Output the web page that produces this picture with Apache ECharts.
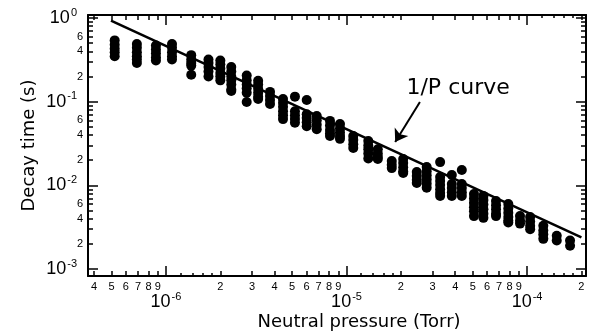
<!DOCTYPE html>
<html>
<head>
<meta charset="utf-8">
<script src="https://cdn.jsdelivr.net/npm/echarts@6/dist/echarts.min.js"></script>
<style>
  html, body { margin: 0; padding: 0; background: #fff; }
  #chart { width: 589px; height: 333px; }
</style>
</head>
<body>
<div id="chart"></div>
<script>
// neutral pressure (Torr) of each measured column
const pressures = [
  5.2e-7, 6.9e-7, 8.8e-7, 1.08e-6, 1.38e-6, 1.72e-6, 2.0e-6, 2.3e-6, 2.8e-6, 3.24e-6,
  3.77e-6, 4.45e-6, 5.18e-6, 6.02e-6, 6.84e-6, 8.1e-6, 9.2e-6, 1.09e-5, 1.32e-5, 1.49e-5,
  1.78e-5, 2.06e-5, 2.45e-5, 2.78e-5, 3.3e-5, 3.83e-5, 4.35e-5, 5.08e-5, 5.73e-5, 6.73e-5,
  7.87e-5, 9.14e-5, 1.04e-4, 1.23e-4, 1.46e-4, 1.73e-4
]
// decay times (s) measured at each pressure
const decayTimes = [
  [0.54, 0.48, 0.43, 0.39, 0.35],
  [0.49, 0.44, 0.39, 0.35, 0.32, 0.29],
  [0.47, 0.42, 0.38, 0.34, 0.31],
  [0.49, 0.44, 0.39, 0.35, 0.32],
  [0.36, 0.32, 0.29, 0.27, 0.21],
  [0.32, 0.29, 0.26, 0.23, 0.20],
  [0.31, 0.28, 0.25, 0.22, 0.20, 0.18],
  [0.26, 0.23, 0.20, 0.18, 0.16, 0.14, 0.134],
  [0.205, 0.18, 0.16, 0.145, 0.128, 0.099],
  [0.178, 0.16, 0.143, 0.128, 0.115, 0.108],
  [0.131, 0.117, 0.105, 0.094],
  [0.108, 0.097, 0.087, 0.077, 0.069, 0.062],
  [0.115, 0.077, 0.069, 0.062, 0.056],
  [0.105, 0.071, 0.064, 0.057, 0.051],
  [0.0675, 0.06, 0.053, 0.047],
  [0.059, 0.052, 0.046, 0.042, 0.039],
  [0.054, 0.048, 0.043, 0.039, 0.036],
  [0.039, 0.035, 0.031, 0.028],
  [0.034, 0.030, 0.027, 0.024, 0.021],
  [0.027, 0.024, 0.022, 0.0207],
  [0.0196, 0.0177, 0.0161],
  [0.0207, 0.0185, 0.0165, 0.0148, 0.0141],
  [0.0145, 0.013, 0.0117, 0.0107],
  [0.0166, 0.0148, 0.0132, 0.0118, 0.0105, 0.0094],
  [0.019, 0.0126, 0.0113, 0.0101, 0.009, 0.0081, 0.0075],
  [0.0133, 0.0104, 0.0093, 0.0083, 0.0075],
  [0.0153, 0.0104, 0.0093, 0.0083, 0.0075],
  [0.0079, 0.007, 0.0062, 0.0055, 0.0049, 0.0043],
  [0.0075, 0.0067, 0.0059, 0.0052, 0.0046, 0.0041],
  [0.0065, 0.0058, 0.0052, 0.0046, 0.0043],
  [0.006, 0.0053, 0.0047, 0.0042, 0.0038, 0.0036],
  [0.0043, 0.0038, 0.0035],
  [0.0042, 0.0037, 0.0033, 0.003],
  [0.0033, 0.0029, 0.0026, 0.0023],
  [0.0025, 0.0022],
  [0.0022, 0.0019]
]
// the 1/P curve, read at its two ends
const curveP = [4.96e-7, 2.0e-4]
const curveTau = [0.93, 0.0024]
const curveLabel = '1/P curve'
const labelAt = [4.15e-5, 0.146]
const arrowFrom = [2.55e-5, 0.099]
const arrowTo = [1.86e-5, 0.033]

// axis ticks
const xRange = [3.7e-7, 2.12e-4]
const yRange = [8.28e-4, 1.086]
const xMajor = [1e-6, 1e-5, 1e-4]
const xMinor = [
  4e-7, 5e-7, 6e-7, 7e-7, 8e-7, 9e-7,
  2e-6, 3e-6, 4e-6, 5e-6, 6e-6, 7e-6, 8e-6, 9e-6,
  2e-5, 3e-5, 4e-5, 5e-5, 6e-5, 7e-5, 8e-5, 9e-5,
  2e-4
]
const xTiny = [1.2e-6, 1.4e-6, 1.6e-6, 1.8e-6, 1.2e-5, 1.4e-5, 1.6e-5, 1.8e-5, 1.2e-4, 1.4e-4, 1.6e-4, 1.8e-4]
const yMajor = [1e-3, 1e-2, 1e-1, 1]
const yMinor = [
  2e-3, 3e-3, 4e-3, 5e-3, 6e-3, 7e-3, 8e-3, 9e-3,
  2e-2, 3e-2, 4e-2, 5e-2, 6e-2, 7e-2, 8e-2, 9e-2,
  2e-1, 3e-1, 4e-1, 5e-1, 6e-1, 7e-1, 8e-1, 9e-1
]
const yMinorLabels = [2e-3, 4e-3, 6e-3, 2e-2, 4e-2, 6e-2, 2e-1, 4e-1, 6e-1]

const points = []
pressures.forEach((p, i) => decayTimes[i].forEach((t) => points.push([p, t])))

const decade = (v) => Math.floor(Math.round(Math.log10(v) * 1e6) / 1e6)
const digit = (v) => String(Math.round(v / Math.pow(10, decade(v))))
const powerLabel = (v) => '{b|10}{s|' + decade(v) + '}'
const powerRich = {
  b: { fontSize: 18, fontFamily: 'Liberation Sans', color: '#000' },
  s: { fontSize: 11, fontFamily: 'Liberation Sans', color: '#000', padding: [0, 0, 11, 1] }
}
const black = '#000'

function tickAxis(pos, ticks, len, extra) {
  return Object.assign({
    type: 'log',
    position: pos,
    min: pos === 'bottom' || pos === 'top' ? xRange[0] : yRange[0],
    max: pos === 'bottom' || pos === 'top' ? xRange[1] : yRange[1],
    axisLine: { show: false },
    axisTick: { show: true, inside: true, length: len, customValues: ticks, lineStyle: { color: black, width: 1.5 } },
    axisLabel: { show: false },
    splitLine: { show: false },
    minorTick: { show: false },
    minorSplitLine: { show: false }
  }, extra || {})
}

const chart = echarts.init(document.getElementById('chart'), null, { renderer: 'canvas' })
chart.setOption({
  animation: false,
  backgroundColor: '#fff',
  grid: { left: 88, right: 3, top: 15, bottom: 57, containLabel: false, outerBoundsMode: 'none' },
  xAxis: [
    tickAxis('bottom', xMajor, 10, {
      axisLine: { show: true, lineStyle: { color: black, width: 2 } },
      axisLabel: {
        show: true, customValues: xMinor, formatter: digit, margin: 5,
        fontSize: 11, fontFamily: 'Liberation Sans', color: black
      },
      name: 'Neutral pressure (Torr)',
      nameLocation: 'middle',
      nameGap: 37,
      nameMoveOverlap: false,
      nameTextStyle: { fontSize: 18, fontFamily: 'DejaVu Sans', color: black, padding: [0, 0, 0, 44] }
    }),
    tickAxis('bottom', xMinor, 5, {
      axisLabel: { show: true, customValues: xMajor, formatter: powerLabel, margin: 15, rich: powerRich }
    }),
    tickAxis('bottom', xTiny, 3),
    tickAxis('top', xMajor, 10, { axisLine: { show: true, lineStyle: { color: black, width: 2 } } }),
    tickAxis('top', xMinor, 5),
    tickAxis('top', xTiny, 3)
  ],
  yAxis: [
    tickAxis('left', yMajor, 10, {
      axisLine: { show: true, lineStyle: { color: black, width: 2 } },
      axisLabel: {
        show: true, customValues: yMinorLabels, formatter: digit, margin: 5,
        fontSize: 11, fontFamily: 'Liberation Sans', color: black
      },
      name: 'Decay time (s)',
      nameLocation: 'middle',
      nameGap: 50,
      nameMoveOverlap: false,
      nameTextStyle: { fontSize: 18, fontFamily: 'DejaVu Sans', color: black }
    }),
    tickAxis('left', yMinor, 5, {
      axisLabel: { show: true, customValues: yMajor, formatter: powerLabel, margin: 11, rich: powerRich }
    }),
    tickAxis('right', yMajor, 10, { axisLine: { show: true, lineStyle: { color: black, width: 2 } } }),
    tickAxis('right', yMinor, 5)
  ],
  series: [
    {
      type: 'scatter',
      xAxisIndex: 0,
      yAxisIndex: 0,
      data: points,
      symbol: 'circle',
      symbolSize: 10,
      itemStyle: { color: black, opacity: 1 }
    },
    {
      type: 'line',
      xAxisIndex: 0,
      yAxisIndex: 0,
      data: curveP.map((p, i) => [p, curveTau[i]]),
      showSymbol: false,
      lineStyle: { color: black, width: 2.5 },
      markPoint: {
        symbol: 'circle',
        symbolSize: 1,
        itemStyle: { color: 'rgba(0,0,0,0)' },
        label: { show: true, position: 'inside', formatter: curveLabel, fontSize: 22, fontFamily: 'DejaVu Sans', color: black },
        data: [{ coord: labelAt }]
      },
      markLine: {
        silent: true,
        symbol: ['none', 'arrow'],
        symbolSize: 12,
        lineStyle: { color: black, width: 2, type: 'solid' },
        label: { show: false },
        data: [[{ coord: arrowFrom }, { coord: arrowTo }]]
      }
    }
  ]
})
</script>
</body>
</html>
